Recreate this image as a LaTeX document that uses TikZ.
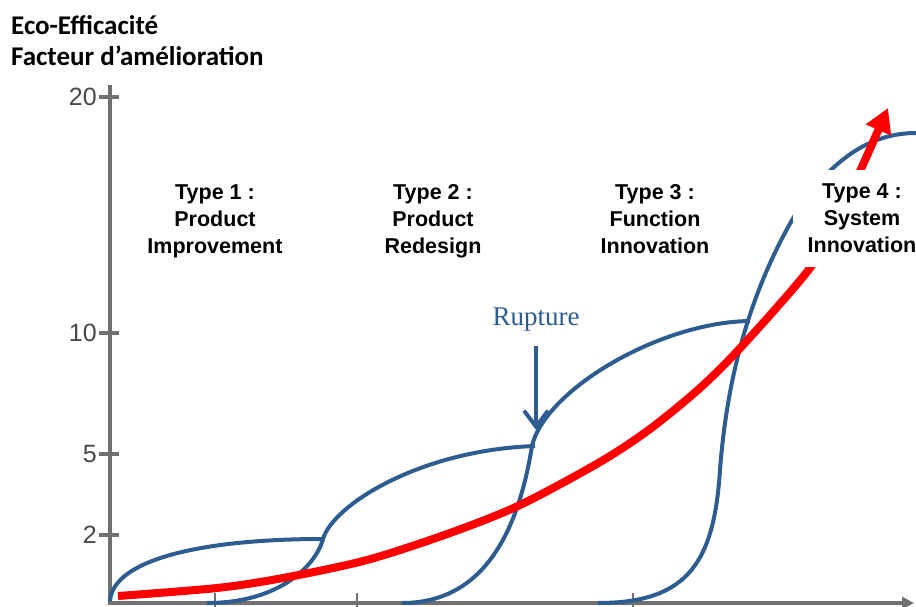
\documentclass[tikz,border=0pt]{standalone}
\usepackage{fontspec}
\setmainfont{Liberation Sans}
\newfontfamily\titlefont{Carlito}
\newfontfamily\rupfont{Liberation Serif}
\usetikzlibrary{arrows.meta}

\definecolor{curveblue}{RGB}{44,92,144}
\definecolor{axisgray}{RGB}{112,112,112}
\definecolor{numgray}{RGB}{72,72,72}

\begin{document}
\begin{tikzpicture}[x=1pt,y=-1pt,
    axis/.style={axisgray, line width=4pt},
    scurve/.style={curveblue, line width=4pt},
    trend/.style={red, line width=8pt, -{Triangle[length=24pt,width=26pt]}},
    typelabel/.style={anchor=north, font=\bfseries\fontsize{21.5}{27}\selectfont, align=center},
    ticklabel/.style={anchor=east, text=numgray, font=\fontsize{25}{25}\selectfont, inner sep=1pt},
    titlelabel/.style={anchor=base west, inner sep=0pt, font=\titlefont\bfseries\fontsize{27}{30}\selectfont}]
    \useasboundingbox (0,0) rectangle (916,607);

    % Title
    \node[titlelabel] (title1) at (11,35) {Eco-Efficacité};
    \node[titlelabel] (title2) at (11,66) {Facteur d’amélioration};

    % Draw axes
    \draw[axis] (110,605) -- (110,85);
    \draw[axis, -{Triangle[length=12pt,width=12pt]}] (108,603) -- (914,603);
    \foreach \v/\y in {20/97,10/333,5/454,2/535}{
        \draw[axis] (99,\y) -- (119,\y);
        \node[ticklabel] (tick\v) at (98,\y) {\v};
    }
    \foreach \x in {215,357,633}
        \draw[axis, line width=2.5pt] (\x,593) -- (\x,607);

    % S-curves
    \draw[scurve] (110,601) .. controls (113,560) and (200,539) .. (323,539);
    \draw[scurve] (207,603) .. controls (280,603) and (316,565) .. (323,539)
        .. controls (333,505) and (420,450) .. (535,446);
    \draw[scurve] (402,603) .. controls (490,603) and (520,520) .. (532,446)
        .. controls (545,390) and (660,322) .. (750,321);
    \draw[scurve] (598,603) .. controls (690,603) and (714,560) .. (720,470)
        .. controls (726,390) and (745,300) .. (795,215)
        .. controls (830,160) and (870,133) .. (916,133);

    % Trend
    \draw[trend] plot[smooth] coordinates {(118,596) (217,588) (283,578) (367,560) (450,533) (520,505) (600,462) (650,429) (700,388) (743,345) (810,268) (840,215) (888,108)};

    % Rupture
    \node[anchor=base, text=curveblue, font=\rupfont\fontsize{27}{27}\selectfont] (rupture) at (536,325) {Rupture};
    \coordinate (ruptip) at (536,430);
    \draw[curveblue, line width=4pt, -{Straight Barb[length=16pt,width=24pt]}, shorten <=12pt] (rupture.south) -- (ruptip);

    % Types
    \node[typelabel] (type1) at (215,181) {Type 1 :\\Product\\Improvement};
    \node[typelabel] (type2) at (433,181) {Type 2 :\\Product\\Redesign};
    \node[typelabel] (type3) at (655,181) {Type 3 :\\Function\\Innovation};
    \node[typelabel, fill=white, inner xsep=15pt, inner ysep=14pt] (type4) at (862,170) {Type 4 :\\System\\Innovation};
\end{tikzpicture}
\end{document}
